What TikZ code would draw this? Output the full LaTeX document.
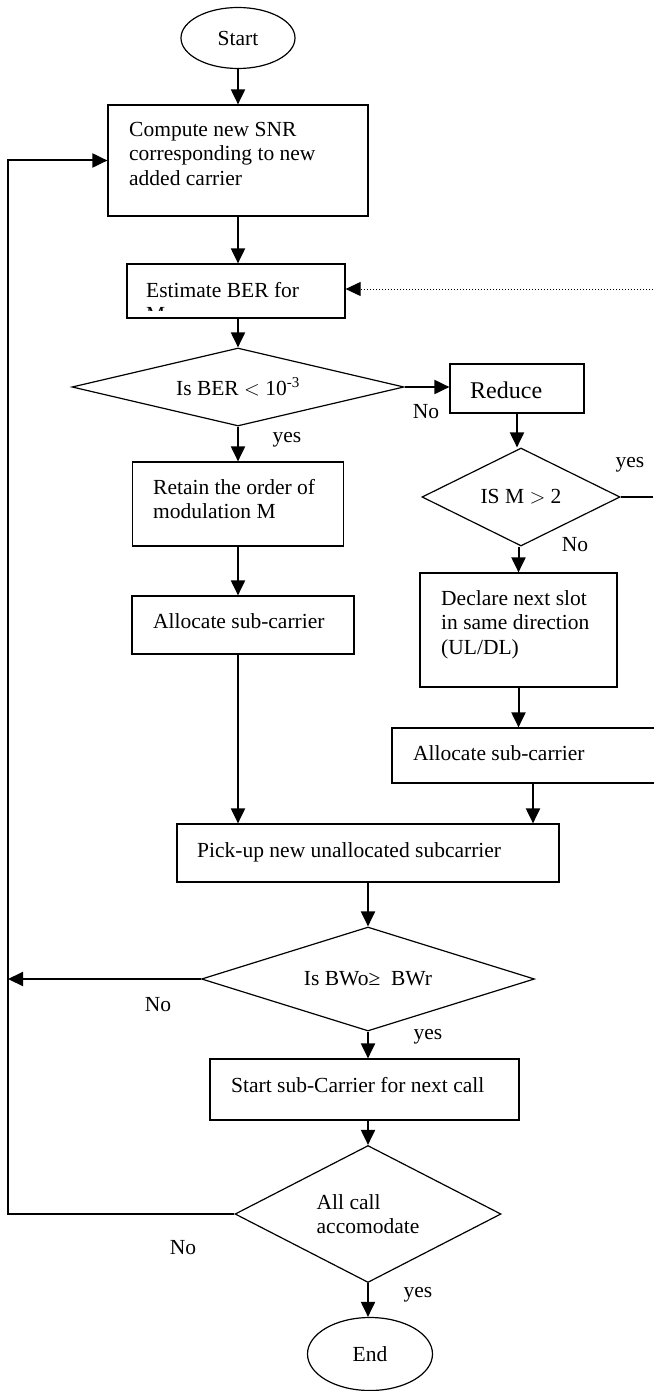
\documentclass[tikz,border=0pt]{standalone}
\usepackage{fontspec}
\setmainfont{Liberation Serif}
\usepackage{tikz}
\usetikzlibrary{shapes.geometric, arrows.meta, positioning, calc}

\tikzset{
    box/.style={draw, line width=1.2pt, inner sep=0pt},
    decision/.style={draw, diamond, aspect=3, line width=1.2pt, inner sep=0pt, align=left},
    terminal/.style={draw, ellipse, line width=1.2pt, inner sep=0pt},
    txt/.style={anchor=north west, inner sep=0pt, align=left},
    lbl/.style={inner sep=0pt},
    flow/.style={-{Triangle[length=15pt,width=14pt]}, line width=2pt},
    hint/.style={-{Triangle[length=15pt,width=14pt]}, line width=1pt, dotted},
}

\begin{document}
\begin{tikzpicture}[x=1pt, y=-1pt, font=\fontsize{21.5}{24.5}\selectfont]
    \useasboundingbox (0,0) rectangle (653,1391);

    \node[terminal, minimum width=114pt, minimum height=61pt] (start) at (238,38) {Start};
    \node[box, minimum width=260pt, minimum height=111pt] (compute) at (238,160.5) {};
    \node[txt] (computetxt) at (129,122) {Compute new SNR\\corresponding to new\\added carrier};
    \node[box, minimum width=218pt, minimum height=54pt] (estimate) at (236,291) {};
    \begin{scope}
        \clip (estimate.north west) rectangle (estimate.east |- 0,310);
        \node[txt] (estimatetxt) at (146,282) {Estimate BER for\\M};
    \end{scope}
    \node[decision, minimum width=332pt, minimum height=78pt] (ber) at (238,387) {Is BER $<$ 10\textsuperscript{-3}};
    \node[box, minimum width=134pt, minimum height=49pt] (reduce) at (517,388.5) {};
    \node[txt, font=\fontsize{24}{28}\selectfont] (reducetxt) at (470,382) {Reduce};
    \node[box, minimum width=211pt, minimum height=84pt] (retain) at (238,504) {};
    \node[txt] (retaintxt) at (153,479) {Retain the order of\\modulation M};
    \node[box, minimum width=222pt, minimum height=58pt] (allocl) at (243,625) {};
    \node[txt] (allocltxt) at (153,613) {Allocate sub-carrier};
    \node[decision, minimum width=198pt, minimum height=98pt] (ism) at (521,497) {IS M $>$ 2};
    \node[box, minimum width=197pt, minimum height=114pt] (declare) at (518.5,630) {};
    \node[txt] (declaretxt) at (441,590) {Declare next slot\\in same direction\\(UL/DL)};
    \node[box, minimum width=282pt, minimum height=55pt] (allocr) at (533,755.5) {};
    \node[txt] (allocrtxt) at (413,745) {Allocate sub-carrier};
    \node[box, minimum width=382pt, minimum height=58pt] (pick) at (368,853) {};
    \node[txt] (picktxt) at (197,842) {Pick-up new unallocated subcarrier};
    \node[decision, minimum width=333pt, minimum height=104pt] (bw) at (368,979) {Is BWo≥\ \ BWr};
    \node[box, minimum width=309pt, minimum height=61pt] (startsub) at (364.5,1089.5) {};
    \node[txt] (startsubtxt) at (231,1077) {Start sub-Carrier for next call};
    \node[decision, minimum width=266pt, minimum height=137pt] (allcall) at (368,1214) {All call\\accomodate};
    \node[terminal, minimum width=125pt, minimum height=73pt] (end) at (370,1354) {End};

    \node[lbl] (berno) at (426,412) {No};
    \node[lbl] (beryes) at (287,440) {yes};
    \node[lbl] (ismyes) at (630,465) {yes};
    \node[lbl] (ismno) at (575,545) {No};
    \node[lbl] (bwno) at (158,1005) {No};
    \node[lbl] (bwyes) at (428,1037) {yes};
    \node[lbl] (allno) at (183,1248) {No};
    \node[lbl] (allyes) at (418,1295) {yes};

    \coordinate (loopcorner) at (8,1214);
    \coordinate (retry) at (653,289);
    \coordinate (ismexit) at (653,497);

    \draw[flow] (start) -- (compute);
    \draw[flow] (compute) -- (compute |- estimate.north);
    \draw[flow] (estimate.south -| ber) -- (ber);
    \draw[flow] (ber) -- (retain);
    \draw[flow] (retain) -- (retain |- allocl.north);
    \draw[flow] (allocl.south -| retain) -- (retain |- pick.north);
    \draw[flow] (ber.east) -- (ber.east -| reduce.west);
    \draw[flow] (reduce.south) -- (reduce.south |- ism.north);
    \draw[line width=1.2pt] (ism.east) -- (ismexit);
    \draw[flow] (ism.south -| declare) -- (declare.north);
    \draw[flow] (declare.south) -- (declare.south |- allocr.north);
    \draw[flow] (allocr) -- (allocr |- pick.north);
    \draw[hint] (retry) -- (retry -| estimate.east);
    \draw[flow] (pick) -- (bw);
    \draw[flow] (bw.west) -- (bw.west -| loopcorner);
    \draw[flow] (bw.south) -- (bw.south |- startsub.north);
    \draw[flow] (startsub.south -| bw) -- (bw |- allcall.north);
    \draw[flow] (allcall.south) -- (allcall.south |- end.north);
    \draw[flow] (allcall.west) -- (loopcorner) |- (compute.west);
\end{tikzpicture}
\end{document}
